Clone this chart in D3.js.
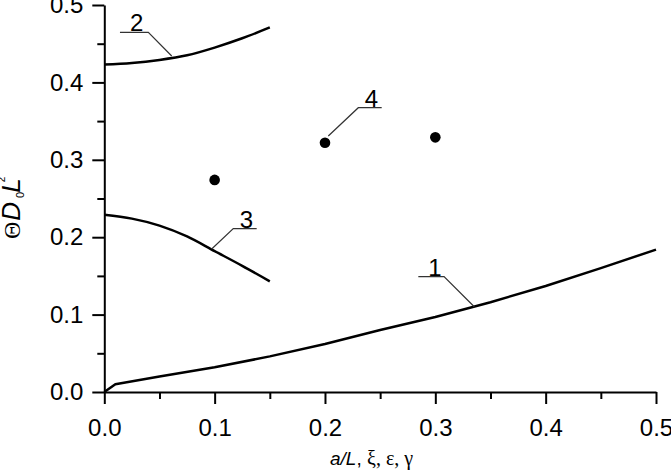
<!DOCTYPE html>
<html>
<head>
<meta charset="utf-8">
<script src="https://cdn.jsdelivr.net/npm/d3@7"></script>
<style>
  body { margin: 0; background: #fff; }
  svg { display: block; }
</style>
</head>
<body>
<div id="chart"></div>
<script>
// tick values
var xTicks = [0.0, 0.1, 0.2, 0.3, 0.4, 0.5];
var yTicks = [0.0, 0.1, 0.2, 0.3, 0.4, 0.5];
var xMinor = [0.05, 0.15, 0.25, 0.35, 0.45];
var yMinor = [0.05, 0.15, 0.25, 0.35, 0.45];

// curve 1
var c1x = [0, 0.01, 0.05, 0.1, 0.15, 0.2, 0.25, 0.3, 0.35, 0.4, 0.45, 0.5];
var c1y = [0, 0.010, 0.020, 0.032, 0.046, 0.062, 0.080, 0.097, 0.116, 0.137, 0.160, 0.184];
// curve 2
var c2x = [0, 0.025, 0.05, 0.075, 0.1, 0.125, 0.15];
var c2y = [0.423, 0.425, 0.429, 0.435, 0.445, 0.457, 0.471];
// curve 3
var c3x = [0, 0.025, 0.05, 0.075, 0.1, 0.125, 0.15];
var c3y = [0.229, 0.224, 0.215, 0.201, 0.182, 0.163, 0.143];
// points 4
var p4x = [0.1, 0.2, 0.3];
var p4y = [0.274, 0.322, 0.329];

// curve labels and leader lines (data units)
var labelText = ["1", "2", "3", "4"];
var labelAt = [[0.2997, 0.149], [0.0294, 0.4647], [0.1289, 0.211], [0.2422, 0.3673]];
var leaders = [
  [[0.2846, 0.149], [0.3079, 0.149], [0.3353, 0.1102]],
  [[0.0142, 0.4647], [0.0399, 0.4647], [0.0611, 0.4341]],
  [[0.1381, 0.211], [0.1169, 0.211], [0.0973, 0.1848]],
  [[0.2514, 0.3673], [0.2302, 0.3673], [0.2030, 0.3307]]
];

var width = 671, height = 476;
var svg = d3.select('#chart').append('svg')
    .attr('width', width)
    .attr('height', height);

var x = d3.scaleLinear().domain([0, 0.5]).range([104.3, 656]);
var y = d3.scaleLinear().domain([0, 0.5]).range([392, 5]);

var fmt = d3.format('.1f');
var font = '"Liberation Sans", Arial, sans-serif';
var serif = '"Liberation Serif", "Times New Roman", serif';

// minor ticks
svg.append('g')
    .attr('transform', 'translate(0,' + y(0) + ')')
    .call(d3.axisBottom(x).tickValues(xMinor).tickSize(7).tickFormat(''))
    .call(function(g){ g.select('.domain').remove(); })
    .selectAll('line').attr('stroke-width', 2);
svg.append('g')
    .attr('transform', 'translate(' + x(0) + ',0)')
    .call(d3.axisLeft(y).tickValues(yMinor).tickSize(7).tickFormat(''))
    .call(function(g){ g.select('.domain').remove(); })
    .selectAll('line').attr('stroke-width', 2);

// major axes
var xAxis = svg.append('g')
    .attr('transform', 'translate(0,' + y(0) + ')')
    .call(d3.axisBottom(x).tickValues(xTicks).tickSize(12).tickSizeOuter(0).tickPadding(15).tickFormat(fmt));
var yAxis = svg.append('g')
    .attr('transform', 'translate(' + x(0) + ',0)')
    .call(d3.axisLeft(y).tickValues(yTicks).tickSize(12).tickSizeOuter(0).tickPadding(9).tickFormat(fmt));

[xAxis, yAxis].forEach(function(a){
    a.select('.domain').attr('stroke-width', 2);
    a.selectAll('line').attr('stroke-width', 2);
    a.selectAll('text')
        .style('font-family', font)
        .style('font-size', '24px')
        .attr('fill', '#000');
});

// curves
var smooth = d3.line()
    .x(function(d){ return x(d[0]); })
    .y(function(d){ return y(d[1]); })
    .curve(d3.curveMonotoneX);
var straight = d3.line()
    .x(function(d){ return x(d[0]); })
    .y(function(d){ return y(d[1]); });

[[c1x, c1y, straight], [c2x, c2y, smooth], [c3x, c3y, smooth]].forEach(function(c){
    var pts = c[0].map(function(v, i){ return [v, c[1][i]]; });
    svg.append('path')
        .datum(pts)
        .attr('d', c[2])
        .attr('fill', 'none')
        .attr('stroke', '#000')
        .attr('stroke-width', 2.5)
        .attr('stroke-linejoin', 'round');
});

// dots
svg.selectAll('.dot')
    .data(p4x.map(function(v, i){ return [v, p4y[i]]; }))
    .enter()
    .append('circle')
    .attr('class', 'dot')
    .attr('cx', function(d){ return x(d[0]); })
    .attr('cy', function(d){ return y(d[1]); })
    .attr('r', 5.3)
    .attr('fill', '#000');

// leader lines
svg.selectAll('.leader')
    .data(leaders)
    .enter()
    .append('path')
    .attr('class', 'leader')
    .attr('d', straight)
    .attr('fill', 'none')
    .attr('stroke', '#333')
    .attr('stroke-width', 1.2);

svg.selectAll('.lbl')
    .data(labelText)
    .enter()
    .append('text')
    .attr('class', 'lbl')
    .attr('x', function(d, i){ return x(labelAt[i][0]); })
    .attr('y', function(d, i){ return y(labelAt[i][1]) - 1; })
    .attr('text-anchor', 'middle')
    .style('font-family', font)
    .style('font-size', '24px')
    .text(function(d){ return d; });

// x axis title
var xt = svg.append('text')
    .attr('x', 330)
    .attr('y', 465)
    .style('font-family', font)
    .style('font-size', '19px');
xt.append('tspan').style('font-style', 'italic').text('a/L');
xt.append('tspan').text(', ');
xt.append('tspan').style('font-family', serif).style('font-size', '20px').text('ξ, ε, γ');

// y axis title
var yt = svg.append('text')
    .attr('transform', 'translate(20,239) rotate(-90)')
    .style('font-family', font)
    .style('font-size', '26px');
yt.append('tspan').style('font-family', serif).style('font-size', '24px').text('Θ');
yt.append('tspan').attr('dx', 1).style('font-style', 'italic').text('D');
yt.append('tspan').attr('dx', 4).attr('dy', 4).style('font-size', '11px').text('0');
yt.append('tspan').attr('dx', -1).attr('dy', -4).style('font-style', 'italic').text('L');
yt.append('tspan').attr('dx', -4).attr('dy', -15).style('font-size', '10px').text('2');
</script>
</body>
</html>
